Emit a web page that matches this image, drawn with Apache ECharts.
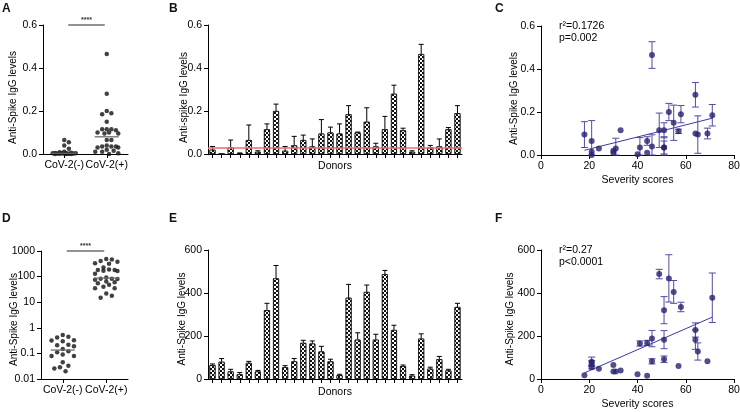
<!DOCTYPE html>
<html><head><meta charset="utf-8">
<script src="https://cdn.jsdelivr.net/npm/echarts/dist/echarts.min.js"></script>
<style>html,body{margin:0;padding:0;background:#fff}#c{width:740px;height:412px}</style>
</head><body><div id="c"></div>
<script>
// ---------------- DATA ----------------
const groupLabels = ['CoV-2(-)', 'CoV-2(+)'];
const donors = ['1','2','3','4','5','6','7','8','9','10','11','12','13','14','15','16','17','18','19','20','21','22','23','24','25','26','27','28'];
// Panel A: control sera (OD)
const ctrlOD = [0.065, 0.055, 0.04, 0.025, 0.01, 0.008, 0.006, 0.005, 0.004, 0.004, 0.003, 0.003, 0.002, 0.002, 0.001, 0.001, 0.001, 0.0, 0.0, 0.0];
// Panel B (and A positives, C y): per-donor anti-spike IgG (OD) and error
const spikeOD    = [0.02, 0.0, 0.03, 0.003, 0.065, 0.01, 0.115, 0.2, 0.015, 0.04, 0.065, 0.035, 0.095, 0.1, 0.095, 0.185, 0.1, 0.15, 0.035, 0.115, 0.28, 0.11, 0.01, 0.465, 0.03, 0.035, 0.115, 0.19];
const spikeODErr = [0.015, 0.0, 0.035, 0.002, 0.07, 0.005, 0.025, 0.032, 0.02, 0.042, 0.023, 0.035, 0.065, 0.025, 0.045, 0.04, 0.002, 0.065, 0.015, 0.06, 0.04, 0.01, 0.005, 0.045, 0.01, 0.035, 0.008, 0.035];
const cutoffOD = 0.03;
// Severity score per donor (C, F x)
const severity = [30, 21, 31, 40, 21, 30, 51, 53, 21, 46, 44, 41, 65, 69, 18, 71, 64, 55, 51, 49, 64, 57, 44, 46, 24, 51, 33, 58];
const sevODErr = [0, 0, 0.048, 0, 0.095, 0, 0.035, 0.04, 0, 0.054, 0.02, 0.046, 0.087, 0.025, 0.06, 0.05, 0, 0.082, 0.05, 0.08, 0.057, 0.01, 0, 0.062, 0, 0.03, 0, 0.04];
// Panel D: control sera (concentration)
const ctrlConc = [0.52, 0.45, 0.42, 0.33, 0.32, 0.3, 0.22, 0.21, 0.19, 0.15, 0.12, 0.11, 0.09, 0.08, 0.08, 0.045, 0.033, 0.029, 0.026, 0.02];
// Panel E (and D positives, F y)
const spikeConc    = [65, 80, 35, 22, 75, 35, 320, 468, 55, 82, 168, 165, 128, 82, 18, 378, 183, 405, 183, 488, 228, 60, 15, 188, 48, 92, 40, 335];
const spikeConcErr = [5, 15, 10, 8, 7, 5, 32, 60, 7, 13, 12, 12, 24, 10, 4, 62, 32, 32, 25, 17, 22, 5, 5, 22, 7, 13, 5, 17];
const sevConcErr   = [0, 22, 0, 0, 10, 0, 63, 110, 8, 12, 12, 12, 40, 0, 0, 115, 45, 53, 42, 22, 33, 0, 0, 38, 0, 15, 0, 22];
const statsC = ['r\u00B2=0.1726', 'p=0.002'];
const statsF = ['r\u00B2=0.27', 'p<0.0001'];
const sigLabel = '****';

// ---------------- HELPERS ----------------
const FONT = '"Liberation Sans", Arial, Helvetica, sans-serif';
const INK = '#000';
const NAVY = '#27236f';
const NAVY2 = '#4f4ba6';

function median(a){ const s=[...a].sort((x,y)=>x-y); const n=s.length; return n%2? s[(n-1)/2] : (s[n/2-1]+s[n/2])/2; }
function fit(xs, ys){
  const n=xs.length; const mx=xs.reduce((p,c)=>p+c,0)/n; const my=ys.reduce((p,c)=>p+c,0)/n;
  let sxy=0,sxx=0; for(let i=0;i<n;i++){sxy+=(xs[i]-mx)*(ys[i]-my); sxx+=(xs[i]-mx)**2;}
  const b=sxy/sxx; return [my-b*mx, b];
}
function regLine(xs, ys){ const [a,b]=fit(xs,ys); const x0=Math.min(...xs), x1=Math.max(...xs); return [[x0,a+b*x0],[x1,a+b*x1]]; }
// deterministic beeswarm: pixel offsets
function swarm(vals, toPx, d, maxOff){
  const order = vals.map((v,i)=>i).sort((a,b)=>vals[b]-vals[a]);
  const steps=[0]; for(let k=1;k*d/2<=maxOff;k++){steps.push(k*d/2,-k*d/2);}
  const placed=[], offs=[];
  order.forEach(i=>{
    const y=toPx(vals[i]); let best=0,bestD=-1;
    for(const s of steps){
      let m=Infinity; for(const p of placed) m=Math.min(m,Math.hypot(p[0]-s,p[1]-y));
      if(m>=d){best=s;break;}
      if(m>bestD){bestD=m;best=s;}
    }
    placed.push([best,y]); offs[i]=best;
  });
  return offs;
}
function swarmData(groups, toPx, d, maxOff){
  const out=[];
  groups.forEach((vals,g)=>{ const o=swarm(vals,toPx,d,maxOff); vals.forEach((v,i)=>out.push({value:[g,v],symbolOffset:[o[i],0]})); });
  return out;
}

const G = [
  {left:43, top:25, width:85, height:129},
  {left:208, top:25, width:254, height:129},
  {left:541, top:26, width:193, height:129},
  {left:41, top:251, width:87, height:128},
  {left:208, top:250, width:254, height:129},
  {left:541, top:250, width:193, height:129}
];

const LBL = {color:INK,fontSize:10.5,fontFamily:FONT,margin:6};
function ax(extra){
  return Object.assign({
    nameMoveOverlap:false,
    axisLine:{show:true,onZero:false,lineStyle:{color:INK,width:1}},
    axisTick:{show:true,length:4,lineStyle:{color:INK,width:1}},
    axisLabel:LBL,
    splitLine:{show:false},
    nameTextStyle:{color:INK,fontSize:10,fontFamily:FONT}
  }, extra);
}
function yName(gap, pad){ return {name:'Anti-Spike IgG levels', nameLocation:'middle', nameGap:gap, nameTextStyle:{color:INK,fontSize:10,fontFamily:FONT,padding:[0,pad,0,0]}}; }
const fmt1 = v=>v.toFixed(1);
const catTick = {show:true,alignWithLabel:true,interval:0,length:4,lineStyle:{color:INK}};
const xName = {color:INK,fontSize:10.5,fontFamily:FONT};

function errUp(params, api){
  const i=api.value(0), v=api.value(1), e=api.value(2);
  if(!(e>0)) return null;
  const p0=api.coord([i,v]), p1=api.coord([i,v+e]);
  return {type:'group',children:[
    {type:'line',shape:{x1:p0[0],y1:p0[1],x2:p1[0],y2:p1[1]},style:{stroke:INK,lineWidth:1}},
    {type:'line',shape:{x1:p1[0]-2.5,y1:p1[1],x2:p1[0]+2.5,y2:p1[1]},style:{stroke:INK,lineWidth:1}}
  ]};
}
function errBoth(params, api){
  const x=api.value(0), y=api.value(1), e=api.value(2);
  if(!(e>0)) return null;
  const lo=api.coord([x,Math.max(0,y-e)]), hi=api.coord([x,y+e]);
  return {type:'group',children:[
    {type:'line',shape:{x1:lo[0],y1:lo[1],x2:hi[0],y2:hi[1]},style:{stroke:NAVY2,lineWidth:1}},
    {type:'line',shape:{x1:hi[0]-3.5,y1:hi[1],x2:hi[0]+3.5,y2:hi[1]},style:{stroke:NAVY2,lineWidth:1}},
    {type:'line',shape:{x1:lo[0]-3.5,y1:lo[1],x2:lo[0]+3.5,y2:lo[1]},style:{stroke:NAVY2,lineWidth:1}}
  ]};
}
function medLine(params, api){
  const p=api.coord([api.value(0),api.value(1)]);
  return {type:'line',shape:{x1:p[0]-12,y1:p[1],x2:p[0]+12,y2:p[1]},style:{stroke:'#6e6e6e',lineWidth:1.3}};
}
function sigBar(params, api){
  const a=api.coord([0,api.value(2)]), b=api.coord([1,api.value(2)]);
  return {type:'group',children:[
    {type:'line',shape:{x1:a[0]+4,y1:a[1],x2:b[0]-2,y2:b[1]},style:{stroke:'#6e6e6e',lineWidth:1.3}},
    {type:'text',style:{text:sigLabel,x:(a[0]+b[0])/2+1,y:a[1]-1.5,align:'center',verticalAlign:'bottom',font:'bold 7px '+FONT,fill:'#333'}}
  ]};
}
const decal = {symbol:'rect',symbolSize:1,color:'#111',backgroundColor:'#fff',dashArrayX:[[2,2],[0,2,2,0]],dashArrayY:[2,0],rotation:0};

const pxA = 129/0.6, pxD = 128/5;
const dataA = swarmData([ctrlOD, spikeOD], v=>v*pxA, 4.6, 13);
const dataD = swarmData([ctrlConc, spikeConc], v=>Math.log10(v)*pxD, 5.6, 12);

const option = {
  animation:false,
  textStyle:{fontFamily:FONT},
  grid: G.map(g=>Object.assign({outerBoundsMode:'none',containLabel:false},g)),
  xAxis: [
    ax({gridIndex:0,type:'category',data:groupLabels,boundaryGap:true,axisTick:catTick,axisLabel:Object.assign({},LBL,{interval:0,hideOverlap:false})}),
    ax({gridIndex:1,type:'category',data:donors,boundaryGap:true,axisLabel:{show:false},axisTick:catTick,name:'Donors',nameLocation:'middle',nameGap:7,nameTextStyle:xName}),
    ax({gridIndex:2,type:'value',min:0,max:80,interval:20,name:'Severity scores',nameLocation:'middle',nameGap:20,nameTextStyle:xName}),
    ax({gridIndex:3,type:'category',data:groupLabels,boundaryGap:true,axisTick:catTick,axisLabel:Object.assign({},LBL,{interval:0,hideOverlap:false})}),
    ax({gridIndex:4,type:'category',data:donors,boundaryGap:true,axisLabel:{show:false},axisTick:catTick,name:'Donors',nameLocation:'middle',nameGap:8,nameTextStyle:xName}),
    ax({gridIndex:5,type:'value',min:0,max:80,interval:20,name:'Severity scores',nameLocation:'middle',nameGap:20,nameTextStyle:xName})
  ],
  yAxis: [
    ax(Object.assign({gridIndex:0,type:'value',min:0,max:0.6,interval:0.2,axisLabel:Object.assign({},LBL,{formatter:fmt1})}, yName(25,16))),
    ax(Object.assign({gridIndex:1,type:'value',min:0,max:0.6,interval:0.2,axisLabel:Object.assign({},LBL,{formatter:fmt1})}, yName(19,16), {name:'Anti-spike IgG levels'})),
    ax(Object.assign({gridIndex:2,type:'value',min:0,max:0.6,interval:0.2,axisLabel:Object.assign({},LBL,{formatter:fmt1})}, yName(22,16))),
    ax(Object.assign({gridIndex:3,type:'log',logBase:10,min:0.01,max:1000,axisLabel:Object.assign({},LBL,{formatter:v=>String(v<1?+v.toPrecision(1):Math.round(v))})}, yName(22,9))),
    ax(Object.assign({gridIndex:4,type:'value',min:0,max:600,interval:200}, yName(21,9))),
    ax(Object.assign({gridIndex:5,type:'value',min:0,max:600,interval:200}, yName(26,9)))
  ],
  series: [
    // A
    {type:'scatter',xAxisIndex:0,yAxisIndex:0,data:dataA,symbolSize:4.5,itemStyle:{color:'#111'},z:3},
    {type:'custom',xAxisIndex:0,yAxisIndex:0,data:[[0,median(ctrlOD)],[1,median(spikeOD)]],renderItem:medLine,z:4},
    {type:'custom',xAxisIndex:0,yAxisIndex:0,data:[[0,1,0.6]],renderItem:sigBar,clip:false,z:4},
    // B
    {type:'bar',xAxisIndex:1,yAxisIndex:1,data:spikeOD,barWidth:6,itemStyle:{color:'#fff',borderColor:'#111',borderWidth:0.8,decal:decal},
     markLine:{silent:true,symbol:['none','none'],label:{show:false},lineStyle:{color:'#e46f6b',width:1.6,type:'solid'},data:[{yAxis:cutoffOD}]},z:2},
    {type:'custom',xAxisIndex:1,yAxisIndex:1,data:spikeOD.map((v,i)=>[i,v,spikeODErr[i]]),renderItem:errUp,z:3},
    // C
    {type:'custom',xAxisIndex:2,yAxisIndex:2,data:spikeOD.map((v,i)=>[severity[i],v,sevODErr[i]]),renderItem:errBoth,z:2},
    {type:'line',xAxisIndex:2,yAxisIndex:2,data:regLine(severity,spikeOD),symbol:'none',lineStyle:{color:'#3d39a0',width:1},z:3},
    {type:'scatter',xAxisIndex:2,yAxisIndex:2,data:spikeOD.map((v,i)=>[severity[i],v]),symbolSize:6,itemStyle:{color:NAVY},z:4},
    // D
    {type:'scatter',xAxisIndex:3,yAxisIndex:3,data:dataD,symbolSize:4.5,itemStyle:{color:'#111'},z:3},
    {type:'custom',xAxisIndex:3,yAxisIndex:3,data:[[0,median(ctrlConc)],[1,median(spikeConc)]],renderItem:medLine,z:4},
    {type:'custom',xAxisIndex:3,yAxisIndex:3,data:[[0,1,1000]],renderItem:sigBar,clip:false,z:4},
    // E
    {type:'bar',xAxisIndex:4,yAxisIndex:4,data:spikeConc,barWidth:6,itemStyle:{color:'#fff',borderColor:'#111',borderWidth:0.8,decal:decal},z:2},
    {type:'custom',xAxisIndex:4,yAxisIndex:4,data:spikeConc.map((v,i)=>[i,v,spikeConcErr[i]]),renderItem:errUp,z:3},
    // F
    {type:'custom',xAxisIndex:5,yAxisIndex:5,data:spikeConc.map((v,i)=>[severity[i],v,sevConcErr[i]]),renderItem:errBoth,z:2},
    {type:'line',xAxisIndex:5,yAxisIndex:5,data:regLine(severity,spikeConc),symbol:'none',lineStyle:{color:'#3d39a0',width:1},z:3},
    {type:'scatter',xAxisIndex:5,yAxisIndex:5,data:spikeConc.map((v,i)=>[severity[i],v]),symbolSize:6,itemStyle:{color:NAVY},z:4}
  ],
  graphic: [
    ...[['A',2,3],['B',169,3],['C',495,3],['D',2,213],['E',169,213],['F',495,213]].map(([t,x,y])=>({type:'text',left:x,top:y,style:{text:t,font:'bold 12px '+FONT,fill:'#111'}})),
    {type:'text',left:559,top:21,style:{text:statsC[0],font:'10.5px '+FONT,fill:INK}},
    {type:'text',left:559,top:33,style:{text:statsC[1],font:'10.5px '+FONT,fill:INK}},
    {type:'text',left:559,top:245,style:{text:statsF[0],font:'10.5px '+FONT,fill:INK}},
    {type:'text',left:559,top:257,style:{text:statsF[1],font:'10.5px '+FONT,fill:INK}}
  ]
};
const chart = echarts.init(document.getElementById('c'), null, {renderer:'canvas'});
chart.setOption(option);
</script></body></html>
